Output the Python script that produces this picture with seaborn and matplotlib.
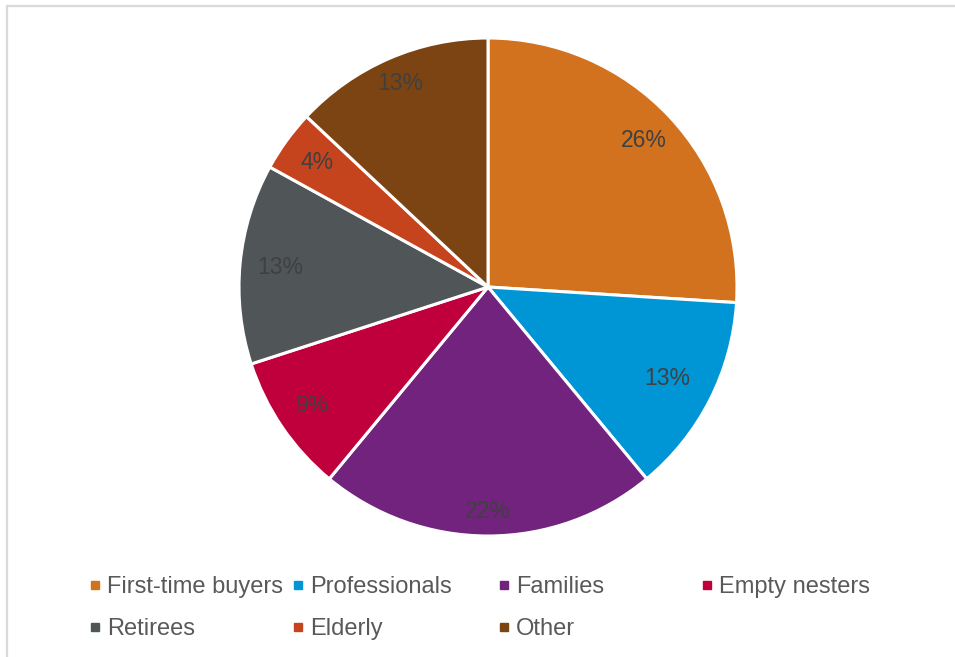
import matplotlib
matplotlib.use("Agg")
import numpy as np
import matplotlib.pyplot as plt
from matplotlib.lines import Line2D
from matplotlib.patches import Rectangle
import seaborn as sns

# data
segments = ["First-time buyers", "Professionals", "Families", "Empty nesters",
            "Retirees", "Elderly", "Other"]
shares = [26, 13, 22, 9, 13, 4, 13]
seg_colors = ["#D2721E", "#0096D6", "#71237D", "#C0003C",
              "#505558", "#C6441D", "#7D4413"]

# how far out each % label sits (fraction of radius, "best fit" look)
label_dist = [0.86, 0.81, 0.90, 0.85, 0.84, 0.85, 0.89]

sns.set_theme(style="white")
plt.rcParams["font.family"] = ["Liberation Sans", "DejaVu Sans"]
palette = sns.color_palette(seg_colors)

fig = plt.figure(figsize=(9.55, 6.57), dpi=100)

# pie centred at (488, 287) px, radius ~249 px
ax = fig.add_axes([239 / 955, (657 - 287 - 249) / 657, 498 / 955, 498 / 657])
wedges, texts, autotexts = ax.pie(
    shares, colors=palette, startangle=90, counterclock=False,
    autopct="%d%%", pctdistance=0.85, radius=1,
    wedgeprops=dict(edgecolor="white", linewidth=2.2),
    textprops=dict(color="#404040", fontsize=16.5),
)
# nudge labels radially
for w, t, d in zip(wedges, autotexts, label_dist):
    ang = np.deg2rad((w.theta1 + w.theta2) / 2)
    t.set_position((d * np.cos(ang), d * np.sin(ang)))

ax.set_xlim(-1, 1)
ax.set_ylim(-1, 1)
ax.set_aspect("equal")
ax.axis("off")

# chart area border (cropped on the right and bottom)
fig.patches.append(Rectangle((7 / 955, -0.05), 1.1, (657 - 6) / 657 + 0.05,
                             transform=fig.transFigure, fill=False,
                             edgecolor="#d9d9d9", linewidth=1.6))

# legend: fixed-width columns, filled row by row
handles = [Line2D([], [], marker="s", linestyle="", markersize=5.5,
                  color=c) for c in palette]
col_x = [88, 291, 497, 700]
for c, x in enumerate(col_x):
    leg = fig.legend(handles[c::4], segments[c::4], loc="upper left",
                     bbox_to_anchor=(x / 955, 1 - 576 / 657), frameon=False,
                     fontsize=17, handlelength=0.6, handletextpad=0.2,
                     labelspacing=0.86, borderaxespad=0, borderpad=0,
                     labelcolor="#595959")

fig.savefig("out.png", dpi=100)
